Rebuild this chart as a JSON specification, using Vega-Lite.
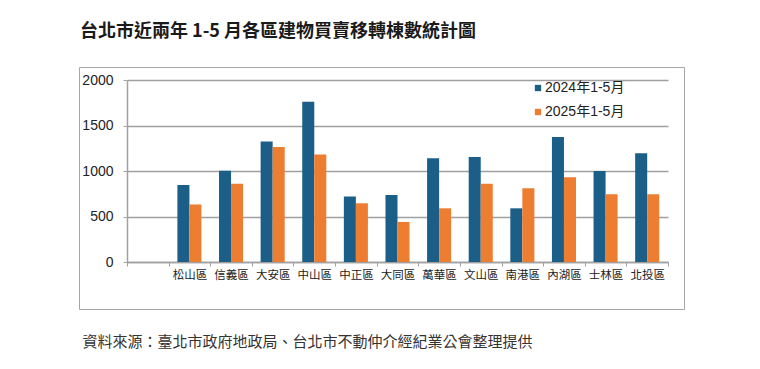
{
  "$schema": "https://vega.github.io/schema/vega-lite/v6.json",
  "autosize": {"type": "none"},
  "width": 605,
  "height": 242,
  "padding": {"left": 79, "top": 67, "right": 76, "bottom": 60},
  "background": "white",
  "title": {
    "text": "台北市近兩年 1-5 月各區建物買賣移轉棟數統計圖",
    "anchor": "start",
    "frame": "group",
    "font": "Noto Sans CJK TC",
    "fontSize": 18,
    "fontWeight": "bold",
    "color": "#1a1a1a",
    "baseline": "bottom",
    "offset": 8,
    "dx": 1
  },
  "data": {
    "values": [
      {"district": "松山區", "period": "2024年1-5月", "count": 846},
      {"district": "松山區", "period": "2025年1-5月", "count": 632},
      {"district": "信義區", "period": "2024年1-5月", "count": 1003},
      {"district": "信義區", "period": "2025年1-5月", "count": 860},
      {"district": "大安區", "period": "2024年1-5月", "count": 1325},
      {"district": "大安區", "period": "2025年1-5月", "count": 1265},
      {"district": "中山區", "period": "2024年1-5月", "count": 1760},
      {"district": "中山區", "period": "2025年1-5月", "count": 1180},
      {"district": "中正區", "period": "2024年1-5月", "count": 720},
      {"district": "中正區", "period": "2025年1-5月", "count": 645},
      {"district": "大同區", "period": "2024年1-5月", "count": 735},
      {"district": "大同區", "period": "2025年1-5月", "count": 440},
      {"district": "萬華區", "period": "2024年1-5月", "count": 1140},
      {"district": "萬華區", "period": "2025年1-5月", "count": 590},
      {"district": "文山區", "period": "2024年1-5月", "count": 1155},
      {"district": "文山區", "period": "2025年1-5月", "count": 860},
      {"district": "南港區", "period": "2024年1-5月", "count": 590},
      {"district": "南港區", "period": "2025年1-5月", "count": 810},
      {"district": "內湖區", "period": "2024年1-5月", "count": 1375},
      {"district": "內湖區", "period": "2025年1-5月", "count": 930},
      {"district": "士林區", "period": "2024年1-5月", "count": 1000},
      {"district": "士林區", "period": "2025年1-5月", "count": 745},
      {"district": "北投區", "period": "2024年1-5月", "count": 1195},
      {"district": "北投區", "period": "2025年1-5月", "count": 745}
    ]
  },
  "mark": {"type": "bar"},
  "encoding": {
    "x": {
      "field": "district",
      "type": "nominal",
      "sort": null,
      "scale": {
        "domain": ["", "松山區", "信義區", "大安區", "中山區", "中正區", "大同區", "萬華區", "文山區", "南港區", "內湖區", "士林區", "北投區"],
        "range": [48, 589],
        "paddingInner": 0,
        "paddingOuter": 0
      },
      "axis": {
        "orient": "bottom",
        "offset": -47,
        "labelAngle": 0,
        "tickBand": "extent",
        "tickSize": 4,
        "tickColor": "#a0a0a0",
        "domainColor": "#a0a0a0",
        "domainWidth": 1.5,
        "labelFont": "Noto Sans CJK TC",
        "labelFontSize": 11.5,
        "labelColor": "#222222",
        "labelPadding": 3,
        "grid": false,
        "title": "資料來源：臺北市政府地政局、台北市不動仲介經紀業公會整理提供",
        "titleFont": "Noto Sans CJK TC",
        "titleFontSize": 15,
        "titleFontWeight": "normal",
        "titleColor": "#333333",
        "titleAnchor": "start",
        "titleAlign": "left",
        "titleBaseline": "middle",
        "titleX": 3,
        "titleY": 79
      }
    },
    "xOffset": {
      "field": "period",
      "type": "nominal",
      "scale": {"paddingInner": 0, "paddingOuter": 0.73}
    },
    "y": {
      "field": "count",
      "type": "quantitative",
      "scale": {"domain": [0, 2000], "range": [195, 13], "nice": false, "zero": true},
      "axis": {
        "orient": "left",
        "offset": -48,
        "values": [0, 500, 1000, 1500, 2000],
        "format": "d",
        "tickSize": 4,
        "tickColor": "#a0a0a0",
        "domainColor": "#a0a0a0",
        "domainWidth": 1.5,
        "gridColor": "#a0a0a0",
        "gridWidth": 1.5,
        "labelFont": "Liberation Sans",
        "labelFontSize": 14,
        "labelColor": "#222222",
        "labelPadding": 10,
        "title": null
      }
    },
    "color": {
      "field": "period",
      "type": "nominal",
      "scale": {"domain": ["2024年1-5月", "2025年1-5月"], "range": ["#1b5e87", "#ed7d31"]},
      "legend": {
        "orient": "none",
        "legendX": 452,
        "legendY": 14,
        "title": null,
        "symbolType": "square",
        "symbolSize": 40,
        "symbolStrokeWidth": 0,
        "labelFont": "Liberation Sans, Noto Sans CJK TC",
        "labelFontSize": 14,
        "labelColor": "#222222",
        "labelOffset": 0,
        "rowPadding": 10,
        "padding": 0
      }
    }
  },
  "config": {
    "view": {"stroke": "#a6a6a6", "strokeWidth": 1},
    "font": "Noto Sans CJK TC"
  }
}
